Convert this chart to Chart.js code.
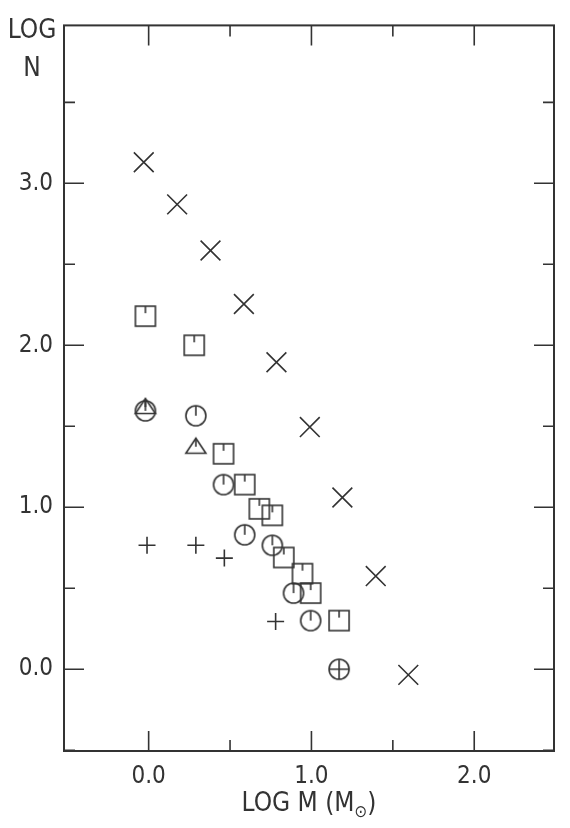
<!DOCTYPE html>
<html><head><meta charset="utf-8">
<script src="https://cdn.jsdelivr.net/npm/chart.js@4/dist/chart.umd.min.js"></script>
<style>html,body{margin:0;padding:0;background:#fff;}canvas{display:block;}</style>
</head><body>
<canvas id="c" width="570" height="828"></canvas>
<script>
// ---- data ----
const crossX  = [-0.03, 0.175, 0.38, 0.585, 0.785, 0.99, 1.19, 1.395, 1.595];
const crossY  = [3.13, 2.87, 2.585, 2.255, 1.895, 1.495, 1.06, 0.575, -0.035];
const squareX = [-0.02, 0.28, 0.46, 0.59, 0.68, 0.76, 0.83, 0.945, 0.995, 1.17];
const squareY = [2.18, 2.00, 1.33, 1.14, 0.99, 0.95, 0.69, 0.59, 0.47, 0.30];
const circleX = [-0.02, 0.29, 0.46, 0.59, 0.76, 0.89, 0.995, 1.17];
const circleY = [1.595, 1.565, 1.14, 0.83, 0.765, 0.47, 0.30, 0.00];
const triX    = [-0.02, 0.29];
const triY    = [1.625, 1.38];
const plusX   = [-0.01, 0.29, 0.465, 0.78];
const plusY   = [0.765, 0.765, 0.686, 0.295];
const xTicks  = [0, 1, 2];
const yTicks  = [0, 1, 2, 3];
const xMinor  = [0.5, 1.5];
const yMinor  = [-0.5, 0.5, 1.5, 2.5, 3.5];

const INK = '#333333';
const FONT = "'Liberation Sans Narrow', 'DejaVu Sans Condensed', 'Liberation Sans', sans-serif";

function pts(xs, ys) { return xs.map((x, i) => ({x: x, y: ys[i]})); }

function mk(draw) {
  const c = document.createElement('canvas');
  c.width = 26; c.height = 26;
  const g = c.getContext('2d');
  g.strokeStyle = INK; g.lineWidth = 1.6; g.lineCap = 'butt';
  draw(g);
  return c;
}
const squareImg = mk(g => {
  g.strokeRect(3, 3, 20, 20);
  g.beginPath(); g.moveTo(13, 3); g.lineTo(13, 10); g.stroke();
});
const circleImg = mk(g => {
  g.beginPath(); g.arc(13, 13, 10, 0, Math.PI * 2); g.stroke();
  g.beginPath(); g.moveTo(13, 3); g.lineTo(13, 13); g.stroke();
});
const circlePlusImg = mk(g => {
  g.beginPath(); g.arc(13, 13, 10, 0, Math.PI * 2); g.stroke();
  g.beginPath(); g.moveTo(3, 13); g.lineTo(23, 13); g.moveTo(13, 3); g.lineTo(13, 23); g.stroke();
});
const triImg = mk(g => {
  g.beginPath(); g.moveTo(13, 5.5); g.lineTo(23, 20.5); g.lineTo(3, 20.5); g.closePath(); g.stroke();
  g.beginPath(); g.moveTo(13, 5.5); g.lineTo(13, 14); g.stroke();
});

const framePlugin = {
  id: 'frame',
  afterDraw(chart) {
    const {ctx, chartArea: a, scales: {x, y}} = chart;
    ctx.save();
    ctx.strokeStyle = INK;
    ctx.lineWidth = 2;
    ctx.strokeRect(a.left, a.top, a.right - a.left, a.bottom - a.top);
    ctx.lineWidth = 1.6;
    ctx.beginPath();
    const tick = (vals, len) => {
      vals.forEach(v => {
        const px = x.getPixelForValue(v);
        ctx.moveTo(px, a.bottom); ctx.lineTo(px, a.bottom - len);
        ctx.moveTo(px, a.top); ctx.lineTo(px, a.top + len);
      });
    };
    const tickY = (vals, len) => {
      vals.forEach(v => {
        const py = y.getPixelForValue(v);
        ctx.moveTo(a.left, py); ctx.lineTo(a.left + len, py);
        ctx.moveTo(a.right, py); ctx.lineTo(a.right - len, py);
      });
    };
    tick(xTicks, 20); tick(xMinor, 11);
    tickY(yTicks, 20); tickY(yMinor, 11);
    ctx.stroke();

    // axis titles
    ctx.fillStyle = INK;
    ctx.textBaseline = 'middle';
    ctx.textAlign = 'center';
    ctx.font = '26px ' + FONT;
    ctx.fillText('LOG', 32, 31);
    ctx.fillText('N', 32, 69);

    const main = 'LOG M (M', sub = '\u2299', tail = ')';
    ctx.font = '26px ' + FONT;
    const w1 = ctx.measureText(main).width;
    const w3 = ctx.measureText(tail).width;
    ctx.font = '17px ' + FONT;
    const w2 = ctx.measureText(sub).width;
    const cx = (a.left + a.right) / 2;
    let sx = cx - (w1 + w2 + w3) / 2;
    const ty = 804;
    ctx.textAlign = 'left';
    ctx.font = '26px ' + FONT;
    ctx.fillText(main, sx, ty);
    ctx.font = '17px ' + FONT;
    ctx.fillText(sub, sx + w1, ty + 9);
    ctx.font = '26px ' + FONT;
    ctx.fillText(tail, sx + w1 + w2, ty);
    ctx.restore();
  }
};

new Chart(document.getElementById('c'), {
  type: 'scatter',
  data: {
    datasets: [
      {data: pts(crossX, crossY), pointStyle: 'crossRot', pointRadius: 14, borderColor: INK, borderWidth: 1.6, backgroundColor: 'transparent'},
      {data: pts(squareX, squareY), pointStyle: squareImg, pointRadius: 13},
      {data: pts(circleX, circleY), pointStyle: circleX.map((v, i) => i === circleX.length - 1 ? circlePlusImg : circleImg), pointRadius: 13},
      {data: pts(triX, triY), pointStyle: triImg, pointRadius: 13},
      {data: pts(plusX, plusY), pointStyle: 'cross', pointRadius: 8.5, borderColor: INK, borderWidth: 1.6, backgroundColor: 'transparent'}
    ]
  },
  options: {
    responsive: false,
    animation: false,
    layout: {padding: {top: 17, right: 16, left: 0, bottom: 0}},
    plugins: {legend: {display: false}, tooltip: {enabled: false}},
    scales: {
      x: {
        type: 'linear', min: -0.52, max: 2.49,
        grid: {display: false, drawTicks: false},
        border: {display: false},
        afterBuildTicks: s => { s.ticks = xTicks.map(v => ({value: v})); },
        afterFit: s => { s.height = 77; },
        ticks: {padding: 11, color: INK, font: {family: FONT, size: 24}, callback: v => v.toFixed(1), maxRotation: 0}
      },
      y: {
        type: 'linear', min: -0.505, max: 3.975,
        grid: {display: false, drawTicks: false},
        border: {display: false},
        afterBuildTicks: s => { s.ticks = yTicks.map(v => ({value: v})); },
        afterFit: s => { s.width = 64; },
        ticks: {padding: 11, color: INK, font: {family: FONT, size: 24}, callback: v => v.toFixed(1)}
      }
    }
  },
  plugins: [framePlugin]
});
</script>
</body></html>
